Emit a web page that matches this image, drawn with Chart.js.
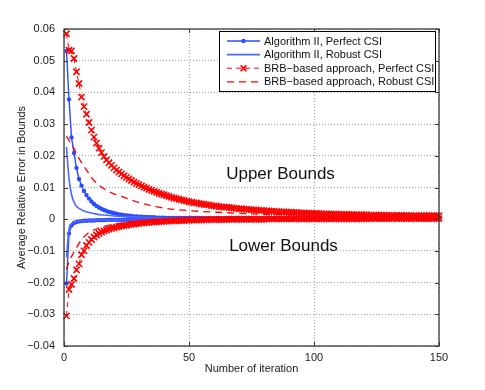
<!DOCTYPE html>
<html>
<head>
<meta charset="utf-8">
<script src="https://cdn.jsdelivr.net/npm/chart.js@4.4.0/dist/chart.umd.min.js"></script>
<style>
  html, body { margin: 0; padding: 0; background: #fff; }
  canvas { display: block; }
</style>
</head>
<body>
<canvas id="boundsChart" width="485" height="390"></canvas>
<script>
// iterations 1..150
const iterations = Array.from({ length: 150 }, (_, i) => i + 1);

const seriesNames = [
  'Algorithm II, Perfect CSI',
  'Algorithm II, Robust CSI',
  'BRB\u2212based approach, Perfect CSI',
  'BRB\u2212based approach, Robust CSI'
];

// Algorithm II, Perfect CSI (one value per iteration)
const algPerfectUpper = [
  0.0531, 0.0378, 0.0258, 0.0209, 0.0162, 0.0127, 0.0106, 0.0089, 0.0076, 0.0065,
  0.0056, 0.0048, 0.0042, 0.0037, 0.0033, 0.0029, 0.0026, 0.0023, 0.0021, 0.0019,
  0.0017, 0.0015, 0.0014, 0.0013, 0.0012, 0.0011, 0.0010, 0.0009, 0.0009, 0.0008,
  0.0008, 0.0007, 0.0007, 0.0006, 0.0006, 0.0006, 0.0005, 0.0005, 0.0005, 0.0005,
  0.0004, 0.0004, 0.0004, 0.0004, 0.0004, 0.0004, 0.0004, 0.0004, 0.0004, 0.0004,
  0.0004, 0.0004, 0.0004, 0.0004, 0.0004, 0.0003, 0.0003, 0.0003, 0.0003, 0.0003,
  0.0003, 0.0003, 0.0003, 0.0003, 0.0003, 0.0003, 0.0003, 0.0003, 0.0003, 0.0003,
  0.0003, 0.0003, 0.0003, 0.0003, 0.0003, 0.0003, 0.0003, 0.0003, 0.0003, 0.0003,
  0.0003, 0.0003, 0.0003, 0.0003, 0.0003, 0.0003, 0.0003, 0.0003, 0.0003, 0.0003,
  0.0003, 0.0003, 0.0003, 0.0003, 0.0003, 0.0003, 0.0003, 0.0003, 0.0003, 0.0003,
  0.0002, 0.0002, 0.0002, 0.0002, 0.0002, 0.0002, 0.0002, 0.0002, 0.0002, 0.0002,
  0.0002, 0.0002, 0.0002, 0.0002, 0.0002, 0.0002, 0.0002, 0.0002, 0.0002, 0.0002,
  0.0002, 0.0002, 0.0002, 0.0002, 0.0002, 0.0002, 0.0002, 0.0002, 0.0002, 0.0002,
  0.0002, 0.0002, 0.0002, 0.0002, 0.0002, 0.0002, 0.0002, 0.0002, 0.0002, 0.0002,
  0.0002, 0.0002, 0.0002, 0.0002, 0.0002, 0.0002, 0.0002, 0.0002, 0.0002, 0.0002
];
const algPerfectLower = [
  -0.0203, -0.0045, -0.0020, -0.0012, -0.0009, -0.0007, -0.0006, -0.0005, -0.0005, -0.0004,
  -0.0004, -0.0004, -0.0003, -0.0003, -0.0003, -0.0003, -0.0002, -0.0002, -0.0002, -0.0002,
  -0.0002, -0.0002, -0.0002, -0.0002, -0.0002, -0.0002, -0.0002, -0.0002, -0.0002, -0.0002,
  -0.0001, -0.0001, -0.0001, -0.0001, -0.0001, -0.0001, -0.0001, -0.0001, -0.0001, -0.0001,
  -0.0001, -0.0001, -0.0001, -0.0001, -0.0001, -0.0001, -0.0001, -0.0001, -0.0001, -0.0001,
  -0.0001, -0.0001, -0.0001, -0.0001, -0.0001, -0.0001, -0.0001, -0.0001, -0.0001, -0.0001,
  0, 0, 0, 0, 0, 0, 0, 0, 0, 0,
  0, 0, 0, 0, 0, 0, 0, 0, 0, 0,
  0, 0, 0, 0, 0, 0, 0, 0, 0, 0,
  0, 0, 0, 0, 0, 0, 0, 0, 0, 0,
  0.0001, 0.0001, 0.0001, 0.0001, 0.0001, 0.0001, 0.0001, 0.0001, 0.0001, 0.0001,
  0.0001, 0.0001, 0.0001, 0.0001, 0.0001, 0.0001, 0.0001, 0.0001, 0.0001, 0.0001,
  0.0001, 0.0001, 0.0001, 0.0001, 0.0001, 0.0001, 0.0001, 0.0001, 0.0001, 0.0001,
  0.0001, 0.0001, 0.0001, 0.0001, 0.0001, 0.0001, 0.0001, 0.0001, 0.0001, 0.0001,
  0.0001, 0.0001, 0.0001, 0.0001, 0.0001, 0.0001, 0.0001, 0.0001, 0.0001, 0.0001
];

// BRB-based approach, Perfect CSI (one value per iteration)
const brbPerfectUpper = [
  0.0585, 0.0533, 0.0531, 0.0507, 0.0465, 0.0428, 0.0385, 0.0355, 0.0331, 0.0305,
  0.0281, 0.0259, 0.0240, 0.0224, 0.0210, 0.0198, 0.0187, 0.0178, 0.0170, 0.0162,
  0.0155, 0.0149, 0.0143, 0.0137, 0.0132, 0.0127, 0.0122, 0.0117, 0.0113, 0.0109,
  0.0105, 0.0101, 0.0098, 0.0094, 0.0091, 0.0088, 0.0085, 0.0082, 0.0079, 0.0077,
  0.0074, 0.0072, 0.0069, 0.0067, 0.0065, 0.0063, 0.0061, 0.0059, 0.0057, 0.0055,
  0.0054, 0.0052, 0.0051, 0.0050, 0.0048, 0.0047, 0.0046, 0.0045, 0.0043, 0.0042,
  0.0041, 0.0040, 0.0039, 0.0038, 0.0038, 0.0037, 0.0036, 0.0035, 0.0034, 0.0033,
  0.0033, 0.0032, 0.0031, 0.0031, 0.0030, 0.0029, 0.0029, 0.0028, 0.0028, 0.0027,
  0.0026, 0.0026, 0.0025, 0.0025, 0.0024, 0.0024, 0.0023, 0.0023, 0.0022, 0.0022,
  0.0022, 0.0021, 0.0021, 0.0020, 0.0020, 0.0020, 0.0019, 0.0019, 0.0019, 0.0018,
  0.0018, 0.0018, 0.0017, 0.0017, 0.0017, 0.0017, 0.0016, 0.0016, 0.0016, 0.0016,
  0.0015, 0.0015, 0.0015, 0.0015, 0.0015, 0.0014, 0.0014, 0.0014, 0.0014, 0.0014,
  0.0014, 0.0013, 0.0013, 0.0013, 0.0013, 0.0013, 0.0013, 0.0013, 0.0012, 0.0012,
  0.0012, 0.0012, 0.0012, 0.0012, 0.0012, 0.0012, 0.0012, 0.0011, 0.0011, 0.0011,
  0.0011, 0.0011, 0.0011, 0.0011, 0.0011, 0.0011, 0.0011, 0.0011, 0.0011, 0.0011
];
const brbPerfectLower = [
  -0.0305, -0.0222, -0.0206, -0.0187, -0.0160, -0.0141, -0.0112, -0.0100, -0.0083, -0.0073,
  -0.0064, -0.0056, -0.0050, -0.0045, -0.0041, -0.0037, -0.0034, -0.0031, -0.0029, -0.0027,
  -0.0025, -0.0023, -0.0021, -0.0020, -0.0019, -0.0017, -0.0016, -0.0015, -0.0014, -0.0013,
  -0.0012, -0.0011, -0.0011, -0.0010, -0.0009, -0.0009, -0.0008, -0.0008, -0.0007, -0.0007,
  -0.0006, -0.0006, -0.0005, -0.0005, -0.0005, -0.0004, -0.0004, -0.0004, -0.0003, -0.0003,
  -0.0003, -0.0003, -0.0002, -0.0002, -0.0002, -0.0002, -0.0002, -0.0001, -0.0001, -0.0001,
  -0.0001, -0.0001, -0.0001, -0.0001, -0.0001, 0, 0, 0, 0, 0,
  0, 0, 0, 0, 0, 0, 0, 0, 0, 0,
  0.0001, 0.0001, 0.0001, 0.0001, 0.0001, 0.0001, 0.0001, 0.0001, 0.0001, 0.0001,
  0.0001, 0.0001, 0.0001, 0.0001, 0.0001, 0.0001, 0.0001, 0.0001, 0.0001, 0.0001,
  0.0001, 0.0001, 0.0001, 0.0001, 0.0001, 0.0001, 0.0001, 0.0001, 0.0001, 0.0001,
  0.0001, 0.0001, 0.0001, 0.0001, 0.0001, 0.0001, 0.0001, 0.0001, 0.0001, 0.0001,
  0.0002, 0.0002, 0.0002, 0.0002, 0.0002, 0.0002, 0.0002, 0.0002, 0.0002, 0.0002,
  0.0002, 0.0002, 0.0002, 0.0002, 0.0002, 0.0002, 0.0002, 0.0002, 0.0002, 0.0002,
  0.0002, 0.0002, 0.0002, 0.0002, 0.0002, 0.0002, 0.0002, 0.0002, 0.0002, 0.0002
];

// Robust CSI curves (plain lines, read at selected iterations)
const algRobustUpperIter = [1, 2, 3, 4, 5, 6, 8, 10, 13, 16, 20, 25, 30, 40, 60, 100, 150];
const algRobustUpperVal  = [0.0228, 0.0128, 0.0078, 0.0054, 0.0041, 0.0034, 0.0026, 0.0021, 0.0016,
                            0.0013, 0.0010, 0.0008, 0.0006, 0.0004, 0.0003, 0.0002, 0.0001];
const algRobustLowerIter = [1, 2, 3, 4, 6, 10, 20, 40, 80, 150];
const algRobustLowerVal  = [-0.0120, -0.0032, -0.0015, -0.0010, -0.0006, -0.0004, -0.0002, -0.0001, 0, 0];

const brbRobustUpperIter = [1, 2, 4, 6, 9, 12, 16, 19, 23, 31, 41, 50, 61, 78, 95, 120, 150];
const brbRobustUpperVal  = [0.0262, 0.0248, 0.0223, 0.0192, 0.0155, 0.0122, 0.0096, 0.0083, 0.0072,
                            0.0050, 0.0034, 0.0027, 0.0022, 0.0016, 0.0013, 0.0010, 0.0008];
const brbRobustLowerIter = [1, 2, 3, 5, 7, 9, 12, 15, 20, 25, 30, 40, 50, 70, 100, 150];
const brbRobustLowerVal  = [-0.0158, -0.0135, -0.0118, -0.0090, -0.0065, -0.0048, -0.0034, -0.0025,
                            -0.0016, -0.0011, -0.0008, -0.0004, -0.0002, 0, 0.0001, 0.0001];

const xTicks = [0, 50, 100, 150];
const yTicks = [-0.04, -0.03, -0.02, -0.01, 0, 0.01, 0.02, 0.03, 0.04, 0.05, 0.06];

const pairs = (xs, ys) => xs.map((x, i) => ({ x: x, y: ys[i] }));

const FONT = '"Liberation Sans", Arial, Helvetica, sans-serif';
const BLUE = '#2a4bff';
const BLUE2 = '#4a68ff';
const RED = '#ff0000';

const algPerfectStyle = {
  borderColor: BLUE, backgroundColor: BLUE, borderWidth: 1.4,
  pointStyle: 'circle', pointRadius: 2.2, pointBorderWidth: 0, pointBackgroundColor: BLUE, order: 3
};
const algRobustStyle = { borderColor: BLUE2, borderWidth: 1.6, pointRadius: 0, order: 2,
  cubicInterpolationMode: 'monotone' };
const brbPerfectStyle = {
  borderColor: RED, borderWidth: 1, borderDash: [5, 4],
  pointStyle: 'crossRot', pointRadius: 4.4, pointBorderWidth: 1.6, pointBorderColor: RED, order: 1
};
const brbRobustStyle = { borderColor: RED, borderWidth: 1.3, borderDash: [7, 5], pointRadius: 0, order: 0,
  cubicInterpolationMode: 'monotone' };

const datasets = [
  Object.assign({ label: seriesNames[0], data: pairs(iterations, algPerfectUpper) }, algPerfectStyle),
  Object.assign({ label: seriesNames[0], data: pairs(iterations, algPerfectLower) }, algPerfectStyle),
  Object.assign({ label: seriesNames[1], data: pairs(algRobustUpperIter, algRobustUpperVal) }, algRobustStyle),
  Object.assign({ label: seriesNames[1], data: pairs(algRobustLowerIter, algRobustLowerVal) }, algRobustStyle),
  Object.assign({ label: seriesNames[2], data: pairs(iterations, brbPerfectUpper) }, brbPerfectStyle),
  Object.assign({ label: seriesNames[2], data: pairs(iterations, brbPerfectLower) }, brbPerfectStyle),
  Object.assign({ label: seriesNames[3], data: pairs(brbRobustUpperIter, brbRobustUpperVal) }, brbRobustStyle),
  Object.assign({ label: seriesNames[3], data: pairs(brbRobustLowerIter, brbRobustLowerVal) }, brbRobustStyle)
];
const legendStyles = [algPerfectStyle, algRobustStyle, brbPerfectStyle, brbRobustStyle];

// MATLAB-like box, inward ticks, text labels and legend
const matlabFrame = {
  id: 'matlabFrame',
  afterDraw(chart) {
    const { ctx, chartArea: a, scales } = chart;
    ctx.save();

    // annotations
    ctx.fillStyle = '#111';
    ctx.font = '17px ' + FONT;
    ctx.textAlign = 'center';
    ctx.textBaseline = 'middle';
    ctx.fillText('Upper Bounds', scales.x.getPixelForValue(86.6), scales.y.getPixelForValue(0.0142));
    ctx.fillText('Lower Bounds', scales.x.getPixelForValue(87.8), scales.y.getPixelForValue(-0.0085));

    // box + ticks
    ctx.strokeStyle = '#3a3a3a';
    ctx.lineWidth = 1.3;
    ctx.setLineDash([]);
    ctx.strokeRect(a.left, a.top, a.right - a.left, a.bottom - a.top);
    ctx.lineWidth = 1;
    ctx.beginPath();
    xTicks.forEach(v => {
      const px = Math.round(scales.x.getPixelForValue(v)) + 0.5;
      ctx.moveTo(px, a.bottom); ctx.lineTo(px, a.bottom - 4);
      ctx.moveTo(px, a.top); ctx.lineTo(px, a.top + 4);
    });
    yTicks.forEach(v => {
      const py = Math.round(scales.y.getPixelForValue(v)) + 0.5;
      ctx.moveTo(a.left, py); ctx.lineTo(a.left + 4, py);
      ctx.moveTo(a.right, py); ctx.lineTo(a.right - 4, py);
    });
    ctx.stroke();

    // legend
    const box = { left: 219.5, top: 31.5, width: 216, height: 60 };
    ctx.fillStyle = '#fff';
    ctx.fillRect(box.left, box.top, box.width, box.height);
    ctx.strokeStyle = '#000';
    ctx.lineWidth = 1;
    ctx.strokeRect(box.left, box.top, box.width, box.height);
    ctx.font = '11px ' + FONT;
    ctx.textAlign = 'left';
    ctx.textBaseline = 'middle';
    seriesNames.forEach((name, i) => {
      const st = legendStyles[i];
      const y = box.top + 9.5 + i * 13.6;
      const x0 = 227, x1 = 260, xm = (x0 + x1) / 2;
      ctx.strokeStyle = st.borderColor;
      ctx.lineWidth = st.borderWidth;
      ctx.setLineDash(st.borderDash || []);
      ctx.beginPath(); ctx.moveTo(x0, y); ctx.lineTo(x1, y); ctx.stroke();
      ctx.setLineDash([]);
      if (st.pointRadius > 0) {
        if (st.pointStyle === 'circle') {
          ctx.fillStyle = st.pointBackgroundColor;
          ctx.beginPath(); ctx.arc(xm, y, st.pointRadius, 0, Math.PI * 2); ctx.fill();
        } else {
          const r = st.pointRadius * 0.65;
          ctx.lineWidth = st.pointBorderWidth;
          ctx.beginPath();
          ctx.moveTo(xm - r, y - r); ctx.lineTo(xm + r, y + r);
          ctx.moveTo(xm - r, y + r); ctx.lineTo(xm + r, y - r);
          ctx.stroke();
        }
      }
      ctx.fillStyle = '#111';
      ctx.fillText(name, 264, y + 0.5);
    });
    ctx.restore();
  }
};

new Chart(document.getElementById('boundsChart'), {
  type: 'line',
  data: { datasets: datasets },
  options: {
    responsive: false,
    animation: false,
    clip: false,
    layout: { padding: { left: 0, right: 46, top: 29, bottom: 0 } },
    plugins: { legend: { display: false }, tooltip: { enabled: false } },
    elements: { line: { tension: 0 } },
    scales: {
      x: {
        type: 'linear', min: 0, max: 150,
        ticks: { stepSize: 50, padding: 5, color: '#222', font: { family: FONT, size: 11 }, maxRotation: 0 },
        grid: { color: '#a8a8a8', lineWidth: 1, drawTicks: false, borderDash: [1, 2] },
        border: { display: false, dash: [1, 2] },
        title: { display: true, text: 'Number of iteration', color: '#222',
                 font: { family: FONT, size: 11 }, padding: { top: 0, bottom: 14 } },
        afterFit(s) { s.height = 44; }
      },
      y: {
        min: -0.04, max: 0.06,
        ticks: {
          stepSize: 0.01, padding: 9, color: '#222', font: { family: FONT, size: 11 },
          callback: v => {
            const r = Math.round(v * 100) / 100;
            return r === 0 ? '0' : r.toFixed(2).replace('-', '\u2212');
          }
        },
        grid: { color: '#a8a8a8', lineWidth: 1, drawTicks: false, borderDash: [1, 2] },
        border: { display: false, dash: [1, 2] },
        title: { display: true, text: 'Average Relative Error in Bounds', color: '#222',
                 font: { family: FONT, size: 11 }, padding: { top: 15, bottom: 0 } },
        afterFit(s) { s.width = 64; }
      }
    }
  },
  plugins: [matlabFrame]
});
</script>
</body>
</html>
